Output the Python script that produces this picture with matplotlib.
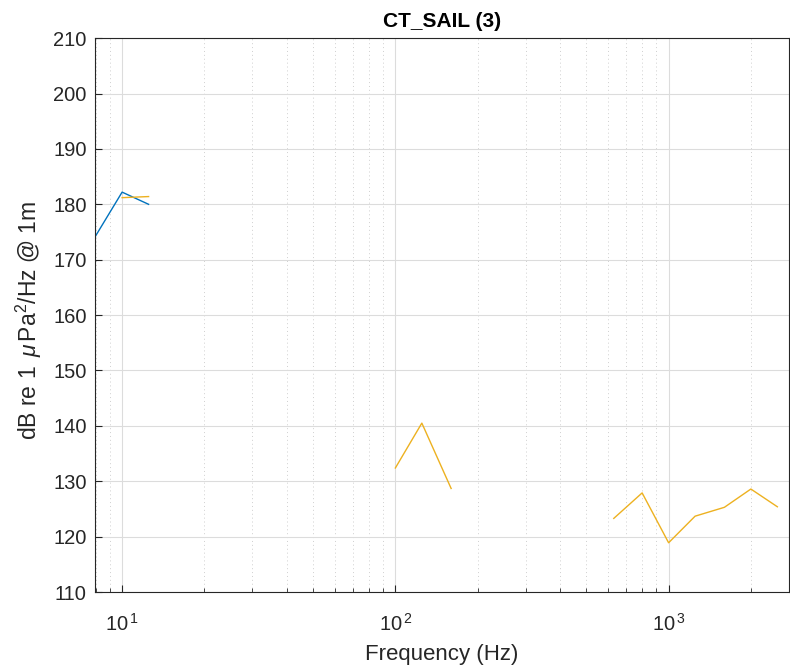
import numpy as np
import matplotlib.pyplot as plt
from matplotlib.ticker import LogLocator, NullFormatter, MultipleLocator, FuncFormatter

plt.rcParams['font.family'] = ['Liberation Sans', 'DejaVu Sans']
plt.rcParams['mathtext.fontset'] = 'custom'
plt.rcParams['mathtext.it'] = 'Liberation Sans:italic'
plt.rcParams['mathtext.rm'] = 'Liberation Sans'

# data
f_blue = [8, 10, 12.5]
db_blue = [174.3, 182.2, 180.0]

f_y1 = [10, 12.5]
db_y1 = [181.2, 181.4]
f_y2 = [100, 125, 160]
db_y2 = [132.4, 140.5, 128.7]
f_y3 = [630, 800, 1000, 1250, 1600, 2000, 2500]
db_y3 = [123.3, 127.9, 118.9, 123.7, 125.3, 128.6, 125.4]

blue = '#0072BD'
yellow = '#EDB120'

fig = plt.figure(figsize=(7.9, 6.69), dpi=100)
ax = fig.add_axes([0.1203, 0.115, 0.878, 0.828])

ax.plot(f_blue, db_blue, color=blue, lw=1.0)
for f, d in [(f_y1, db_y1), (f_y2, db_y2), (f_y3, db_y3)]:
    ax.plot(f, d, color=yellow, lw=1.0)

ax.set_xscale('log')
ax.set_xlim(7.96, 2750)
ax.set_ylim(110, 210)
ax.yaxis.set_major_locator(MultipleLocator(10))
ax.xaxis.set_major_locator(LogLocator(base=10))
ax.xaxis.set_major_formatter(FuncFormatter(
    lambda v, p: r'$\mathregular{10^{\,%d}}$' % round(np.log10(v))))
ax.xaxis.set_minor_locator(LogLocator(base=10, subs=np.arange(2, 10)))
ax.xaxis.set_minor_formatter(NullFormatter())

ax.grid(True, which='major', color='#dcdcdc', lw=0.8)
ax.grid(True, which='minor', axis='x', color='#cfcfcf', lw=0.7, ls=(0, (1, 3)))
ax.set_axisbelow(True)

ax.tick_params(which='both', direction='in', colors='#262626', labelsize=14.5)
ax.tick_params(which='major', length=5)
ax.tick_params(which='minor', length=3)
ax.tick_params(axis='x', pad=15)
ax.tick_params(axis='y', pad=6)
for s in ax.spines.values():
    s.set_color('#262626')
    s.set_linewidth(0.8)

ax.set_title('CT_SAIL (3)', fontsize=15, fontweight='bold', color='black', pad=8)
ax.set_xlabel('Frequency (Hz)', fontsize=16, color='#262626')
ax.set_ylabel(r'dB re 1 $\,\mu\,$Pa$^2$/Hz @ 1m', fontsize=16.5, color='#262626')
ax.xaxis.set_label_coords(0.5, -0.093)
ax.yaxis.set_label_coords(-0.073, 0.49)

fig.savefig('out.png', dpi=100)
